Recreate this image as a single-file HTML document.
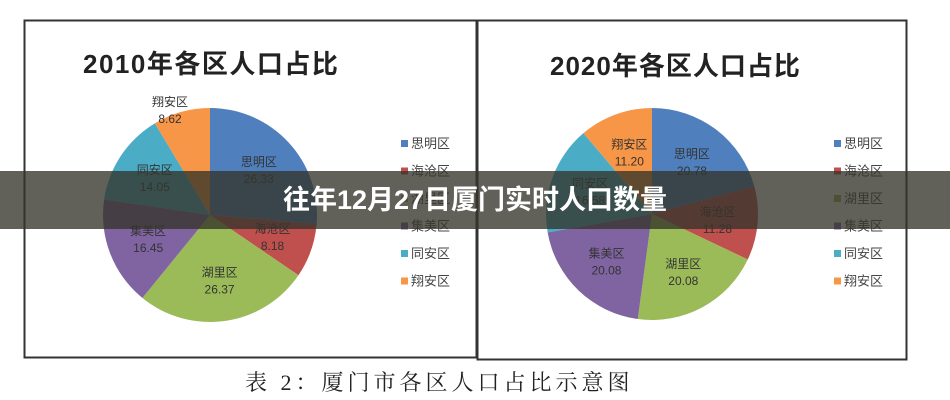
<!DOCTYPE html>
<html><head><meta charset="utf-8"><style>
body{margin:0;width:950px;height:400px;background:#fff;overflow:hidden;font-family:"Liberation Sans","Noto Sans CJK SC",sans-serif}
svg{position:absolute;left:0;top:0}
.band{position:absolute;left:0;top:171px;width:950px;height:58px;background:rgba(52,52,42,0.78);color:#fff;font-weight:bold;font-size:27px;text-align:center;line-height:58px;font-family:"Liberation Sans","Noto Sans CJK SC",sans-serif}
</style></head><body>
<svg id="s" width="950" height="400" xmlns="http://www.w3.org/2000/svg">
<rect x="24.5" y="20.5" width="452" height="337" fill="#fff" stroke="#333" stroke-width="2"/>
<rect x="477.5" y="20.5" width="429" height="339" fill="#fff" stroke="#333" stroke-width="2"/>
<text x="83" y="73" font-size="26" font-weight="bold" fill="#222" letter-spacing="1.5" font-family="Liberation Sans,Noto Sans CJK SC,sans-serif">2010年各区人口占比</text>
<text x="550" y="75" font-size="26" font-weight="bold" fill="#222" letter-spacing="1" font-family="Liberation Sans,Noto Sans CJK SC,sans-serif">2020年各区人口占比</text>
<g id="p1"></g><g id="p2"></g>
<text x="245" y="390" font-size="22" fill="#222" font-family="Liberation Serif,Noto Serif CJK SC,serif" letter-spacing="4">表 2：厦门市各区人口占比示意图</text>
</svg>
<div class="band">往年12月27日厦门实时人口数量</div>
<script>
var cols=["#4f7fbd","#c0504d","#9bbb59","#8064a2","#4bacc6","#f79646"];
var names=["思明区","海沧区","湖里区","集美区","同安区","翔安区"];
function pie(g,cx,cy,r,vals,lx){
 var el=document.getElementById(g),a=0,h="";
 vals.forEach(function(v,i){
  var a2=a+v/100*2*Math.PI;
  var x1=cx+r*Math.sin(a),y1=cy-r*Math.cos(a),x2=cx+r*Math.sin(a2),y2=cy-r*Math.cos(a2);
  h+='<path d="M'+cx+' '+cy+'L'+x1+' '+y1+'A'+r+' '+r+' 0 '+(a2-a>Math.PI?1:0)+' 1 '+x2+' '+y2+'Z" fill="'+cols[i]+'"/>';
  var m=(a+a2)/2,rr=r*0.62,tx=cx+rr*Math.sin(m),ty=cy-rr*Math.cos(m);
  if(i==5&&g=="p1"){tx=cx-40;ty=cy-105;}
  h+='<text x="'+tx+'" y="'+(ty-4)+'" font-size="12" text-anchor="middle" fill="#333">'+names[i]+'</text>';
  h+='<text x="'+tx+'" y="'+(ty+13)+'" font-size="12" text-anchor="middle" fill="#333">'+v.toFixed(2)+'</text>';
  h+='<rect x="'+lx+'" y="'+(140+i*27.5)+'" width="7" height="7" fill="'+cols[i]+'"/>';
  h+='<text x="'+(lx+10)+'" y="'+(148+i*27.5)+'" font-size="13" fill="#444">'+names[i]+'</text>';
  a=a2;});
 el.innerHTML=h;
}
pie("p1",210,215,107,[26.33,8.18,26.37,16.45,14.05,8.62],401);
pie("p2",652,214,106,[20.78,11.28,20.08,20.08,16.58,11.20],834);
</script>
</body></html>
